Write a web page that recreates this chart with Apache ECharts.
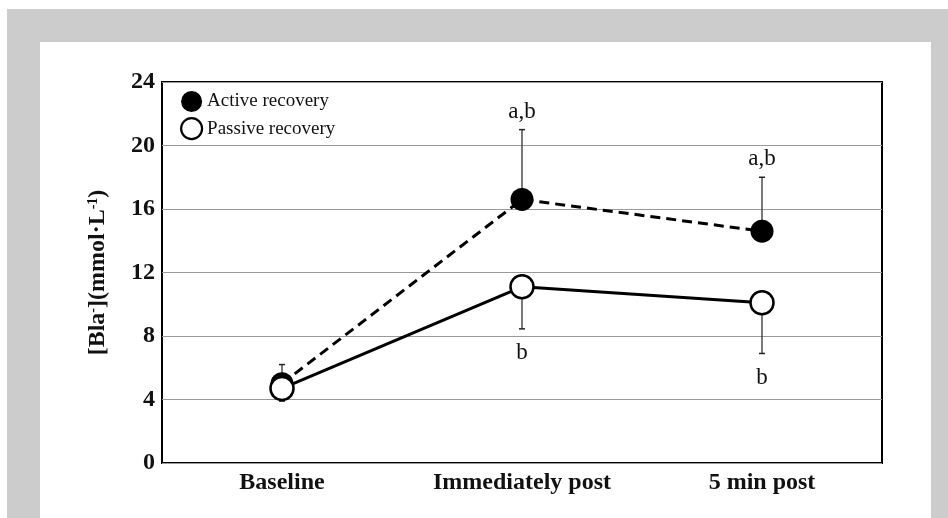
<!DOCTYPE html>
<html><head><meta charset="utf-8">
<script src="https://cdn.jsdelivr.net/npm/echarts@6/dist/echarts.min.js"></script>
<style>html,body{margin:0;padding:0;background:#fff}#c{width:948px;height:518px}</style>
</head><body><div id="c"></div>
<script>
const categories = ['Baseline', 'Immediately post', '5 min post'];
const activeMean = [5.0, 16.6, 14.6];
const activeErrTop = [6.2, 21.0, 18.0];
const passiveMean = [4.7, 11.1, 10.1];
const passiveErrBottom = [3.9, 8.45, 6.9];
const activeAnnot = ['', 'a,b', 'a,b'];
const passiveAnnot = ['', 'b', 'b'];
const yTicks = [0, 4, 8, 12, 16, 20, 24];

const SERIF = "'Liberation Serif','Times New Roman',serif";

function errData(mean, end, dir) {
  return mean.map((m, i) => [i, m, end[i], dir]);
}

function renderErr(params, api) {
  const i = api.value(0), m = api.value(1), e = api.value(2);
  const p0 = api.coord([i, m]);
  const p1 = api.coord([i, e]);
  const cap = 3;
  return {type: 'group', children: [
    {type: 'line', shape: {x1: p0[0], y1: p0[1], x2: p1[0], y2: p1[1]}, style: {stroke: '#222', lineWidth: 1.2}},
    {type: 'line', shape: {x1: p1[0] - cap, y1: p1[1], x2: p1[0] + cap, y2: p1[1]}, style: {stroke: '#222', lineWidth: 1.5}}
  ]};
}

function renderAnnot(params, api) {
  const i = api.value(0), e = api.value(2), dir = api.value(3);
  const txt = dir > 0 ? activeAnnot[i] : passiveAnnot[i];
  const p1 = api.coord([i, e]);
  const off = dir > 0 ? -18 : 24;
  return {type: 'text', style: {text: txt, x: p1[0], y: p1[1] + off, align: 'center', verticalAlign: 'middle', font: '23px ' + SERIF, fill: '#111'}};
}

const chart = echarts.init(document.getElementById('c'));
chart.setOption({
  backgroundColor: '#fff',
  animation: false,
  graphic: [
    {type: 'rect', z: -20, shape: {x: 7, y: 9, width: 941, height: 509}, style: {fill: '#cccccc'}, silent: true},
    {type: 'rect', z: -19, shape: {x: 40, y: 42, width: 891, height: 476}, style: {fill: '#ffffff'}, silent: true}
  ],
  grid: {left: 162, right: 66, top: 82, bottom: 55, show: true, borderColor: '#000', borderWidth: 2, backgroundColor: 'transparent'},
  legend: {
    orient: 'vertical', left: 175, top: 86, itemWidth: 21, itemHeight: 21, itemGap: 5,
    textStyle: {fontFamily: SERIF, fontSize: 19, color: '#111'},
    data: [
      {name: 'Active recovery', icon: 'circle', itemStyle: {color: '#000', borderColor: '#000', borderWidth: 0}},
      {name: 'Passive recovery', icon: 'circle', itemStyle: {color: '#fff', borderColor: '#000', borderWidth: 2.2}}
    ]
  },
  xAxis: {
    type: 'category', data: categories, boundaryGap: true,
    axisLine: {show: false}, axisTick: {show: false},
    axisLabel: {fontFamily: SERIF, fontWeight: 'bold', fontSize: 24, color: '#111', margin: 8}
  },
  yAxis: {
    type: 'value', min: 0, max: 24, interval: 4,
    axisLine: {show: false}, axisTick: {show: false},
    axisLabel: {fontFamily: SERIF, fontWeight: 'bold', fontSize: 24, color: '#111', margin: 7,
      formatter: v => yTicks.includes(v) ? String(v) : ''},
    splitLine: {lineStyle: {color: '#999', width: 1}},
    name: '{b|[Bla}{s|-}{b|](mmol·L}{s|-1}{b|)}',
    nameLocation: 'middle', nameRotate: 90, nameGap: 52,
    nameTextStyle: {
      rich: {
        b: {fontFamily: SERIF, fontWeight: 'bold', fontSize: 24, color: '#111'},
        s: {fontFamily: SERIF, fontWeight: 'bold', fontSize: 14, color: '#111', verticalAlign: 'top', padding: [0, 0, 10, 0]}
      }
    }
  },
  series: [
    {type: 'custom', name: 'errA', z: 1, renderItem: renderErr, data: errData(activeMean, activeErrTop, 1), silent: true},
    {type: 'custom', name: 'errP', z: 1, renderItem: renderErr, data: errData(passiveMean, passiveErrBottom, -1), silent: true},
    {type: 'custom', name: 'annA', z: 1, renderItem: renderAnnot, data: errData(activeMean, activeErrTop, 1), silent: true},
    {type: 'custom', name: 'annP', z: 1, renderItem: renderAnnot, data: errData(passiveMean, passiveErrBottom, -1), silent: true},
    {type: 'line', name: 'Active recovery', z: 3, data: activeMean, symbol: 'circle', symbolSize: 23,
      lineStyle: {color: '#000', width: 3, type: [10, 6]}, itemStyle: {color: '#000'}},
    {type: 'line', name: 'Passive recovery', z: 4, data: passiveMean, symbol: 'circle', symbolSize: 23,
      lineStyle: {color: '#000', width: 3}, itemStyle: {color: '#fff', borderColor: '#000', borderWidth: 2.5}}
  ]
});
</script></body></html>
